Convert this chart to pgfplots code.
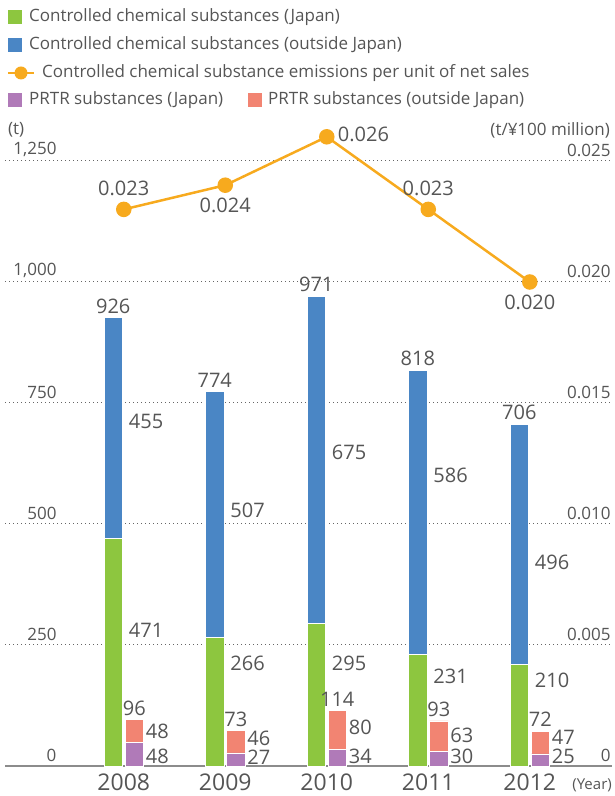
\documentclass[border=0pt]{standalone}
\usepackage{fontspec}
\setmainfont{Open Sans}
\usepackage{pgfplots}
\pgfplotsset{compat=1.18}
\usepackage{pgfplotstable}

\definecolor{cgreen}{RGB}{141,198,63}
\definecolor{cblue}{RGB}{74,134,197}
\definecolor{cpurple}{RGB}{176,122,184}
\definecolor{csalmon}{RGB}{242,132,114}
\definecolor{corange}{RGB}{247,170,30}
\definecolor{ctext}{RGB}{85,85,85}
\definecolor{caxis}{RGB}{140,140,140}

% controlled chemical substances (t)
\pgfplotstableread{
x jp out
0 471 455
1 266 507
2 295 675
3 231 586
4 210 496
}\ctrl
% PRTR substances (t)
\pgfplotstableread{
x jp out
0 48 48
1 27 46
2 34 80
3 30 63
4 25 47
}\prtr
% emissions per unit of net sales
\pgfplotstableread{
x rate
0 0.023
1 0.024
2 0.026
3 0.023
4 0.020
}\rate

% label positions
\pgfplotstableread{
x y lab
0 926 926
1 774 774
2 971 971
3 818 818
4 706 706
}\toplab
\pgfplotstableread{
x y lab
0 711 455
1 529 507
2 649 675
3 601 586
4 421 496
}\bluelab
\pgfplotstableread{
x y lab
0 281 471
1 213 266
2 213 295
3 186 231
4 176 210
}\greenlab
\pgfplotstableread{
x y lab
0 96 96
1 73 73
2 114 114
3 93 93
4 72 72
}\smalltop
\pgfplotstableread{
x y lab
0 72 48
1 58 46
2 79 80
3 64 63
4 60 47
}\salmonlab
\pgfplotstableread{
x y lab
0 19 48
1 19 27
2 19 34
3 19 30
4 19 25
}\purplelab
\pgfplotstableread{
x y lab
0 0.023 0.023
3 0.023 0.023
}\rateabove
\pgfplotstableread{
x y lab
1 0.024 0.024
4 0.020 0.020
}\ratebelow
\pgfplotstableread{
x y lab
2 0.026 0.026
}\rateright

\pgfplotsset{
  base/.style={scale only axis, width=607pt, height=605pt,
    xmin=-1.17, xmax=4.81, ymin=0, ymax=1250, clip=false},
  lab/.style={draw=none, mark=none, nodes near coords,
    point meta=explicit symbolic,
    nodes near coords style={font=\fontsize{20}{20}\selectfont, text=ctext, inner sep=1pt}},
}

\begin{document}
\begin{tikzpicture}
\useasboundingbox (-5pt,-30pt) rectangle (609pt,766pt);

% main bars
\begin{axis}[base, ybar stacked, bar width=18.5pt, bar shift=-10.5pt,
  axis x line*=bottom, axis y line*=left,
  x axis line style={draw=caxis, line width=2pt, -},
  y axis line style={draw=none},
  xtick={0,1,2,3,4}, xticklabels={2008,2009,2010,2011,2012},
  ytick={0,250,500,750,1000,1250},
  yticklabels={0,250,500,750,{1,000},{1,250}},
  major tick length=0pt,
  ymajorgrids, grid style={line width=1pt, dash pattern=on 1pt off 3pt, color=black!60},
  yticklabel style={anchor=south east, xshift=55pt, yshift=1pt,
    font=\fontsize{17}{17}\selectfont, text=ctext},
  xticklabel style={font=\fontsize{23}{23}\selectfont, text=ctext, yshift=-4pt},
]
\addplot[fill=cgreen, draw=white, line width=0.8pt] table[x=x,y=jp]{\ctrl};
\addplot[fill=cblue, draw=white, line width=0.8pt] table[x=x,y=out]{\ctrl};
\end{axis}

% PRTR bars
\begin{axis}[base, hide axis, ybar stacked, bar width=18.5pt, bar shift=10.5pt]
\addplot[fill=cpurple, draw=white, line width=0.8pt] table[x=x,y=jp]{\prtr};
\addplot[fill=csalmon, draw=white, line width=0.8pt] table[x=x,y=out]{\prtr};
\end{axis}

% value labels
\begin{axis}[base, hide axis]
\addplot[lab, nodes near coords style={anchor=south, xshift=-10.5pt, yshift=3pt}] table[x=x,y=y,meta=lab]{\toplab};
\addplot[lab, nodes near coords style={anchor=west, xshift=4pt}] table[x=x,y=y,meta=lab]{\bluelab};
\addplot[lab, nodes near coords style={anchor=west, xshift=4pt}] table[x=x,y=y,meta=lab]{\greenlab};
\addplot[lab, nodes near coords style={anchor=south, xshift=10.5pt, yshift=3pt}] table[x=x,y=y,meta=lab]{\smalltop};
\addplot[lab, nodes near coords style={anchor=west, xshift=21pt}] table[x=x,y=y,meta=lab]{\salmonlab};
\addplot[lab, nodes near coords style={anchor=west, xshift=21pt}] table[x=x,y=y,meta=lab]{\purplelab};
\end{axis}

% emissions per unit of net sales
\begin{axis}[base, ymax=0.025, axis x line=none, axis y line*=right,
  y axis line style={draw=none}, scaled y ticks=false,
  ytick={0,0.005,0.010,0.015,0.020,0.025},
  yticklabels={0,0.005,0.010,0.015,0.020,0.025},
  major tick length=0pt,
  yticklabel style={anchor=south east, xshift=2pt, yshift=1pt,
    font=\fontsize{17}{17}\selectfont, text=ctext},
]
\addplot[corange, line width=2.5pt, mark=*, mark size=6.5pt,
  mark options={fill=corange, draw=corange}] table[x=x,y=rate]{\rate};
\addplot[lab, nodes near coords style={anchor=south, yshift=12pt}] table[x=x,y=y,meta=lab]{\rateabove};
\addplot[lab, nodes near coords style={anchor=north, yshift=-12pt}] table[x=x,y=y,meta=lab]{\ratebelow};
\addplot[lab, nodes near coords style={anchor=west, xshift=10pt, yshift=2pt}] table[x=x,y=y,meta=lab]{\rateright};
\end{axis}

% legend
\begin{scope}[every node/.style={font=\fontsize{17}{20}\selectfont, text=ctext, inner sep=0pt, anchor=west}]
\fill[cgreen] (3pt,742pt) rectangle (17pt,756pt);
\node at (24pt,749pt) {Controlled chemical substances (Japan)};
\fill[cblue] (3pt,714pt) rectangle (17pt,728pt);
\node at (24pt,721pt) {Controlled chemical substances (outside Japan)};
\draw[corange, line width=2.5pt] (3pt,693pt) -- (29pt,693pt);
\fill[corange] (16pt,693pt) circle (6.5pt);
\node at (37pt,693pt) {Controlled chemical substance emissions per unit of net sales};
\fill[cpurple] (3pt,659pt) rectangle (17pt,673pt);
\node at (24pt,666pt) {PRTR substances (Japan)};
\fill[csalmon] (243pt,659pt) rectangle (257pt,673pt);
\node at (263pt,666pt) {PRTR substances (outside Japan)};
\node at (3pt,636pt) {(t)};
\node[anchor=east] at (605pt,636pt) {(t/¥100 million)};
\node[anchor=east, font=\fontsize{15}{15}\selectfont] at (607pt,-19pt) {(Year)};
\end{scope}
\end{tikzpicture}
\end{document}
